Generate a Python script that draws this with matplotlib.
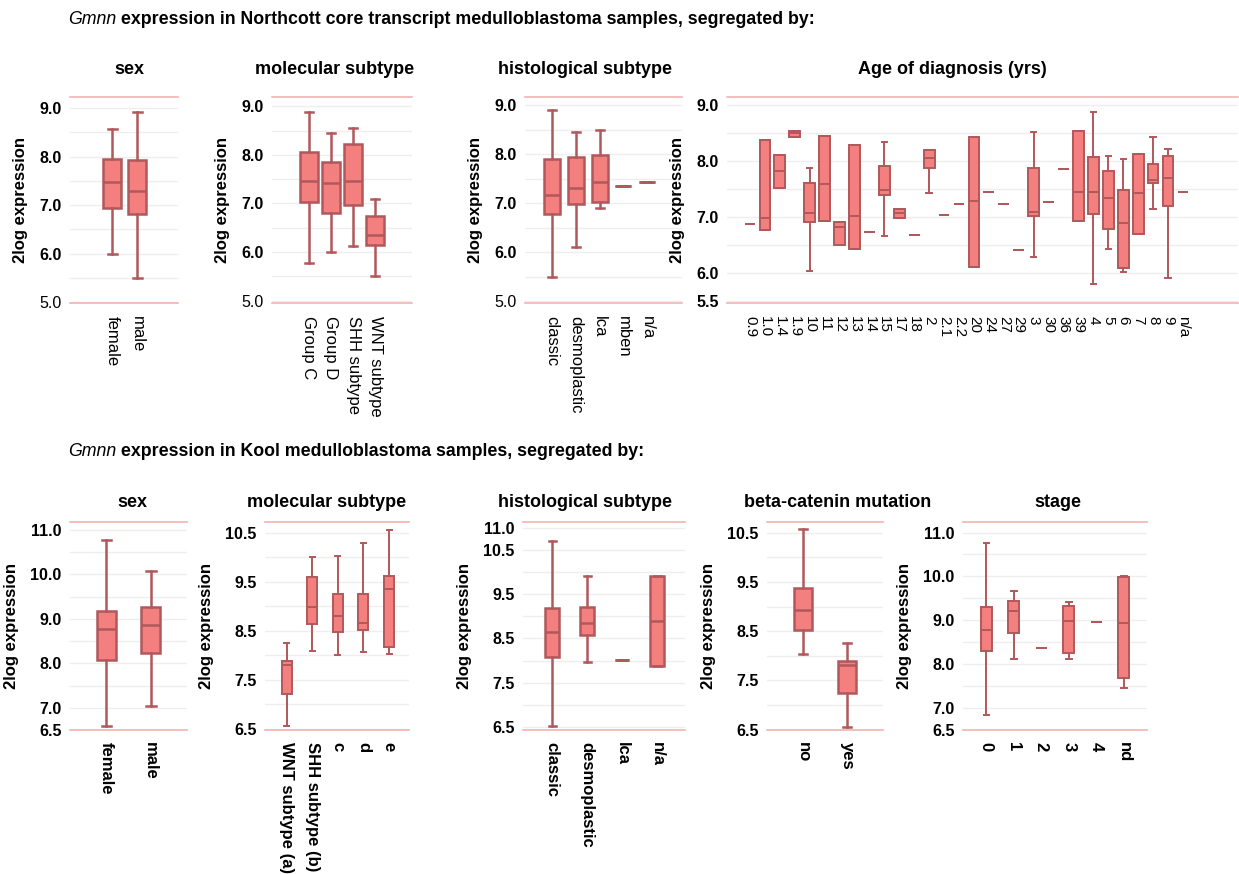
import matplotlib
matplotlib.use('Agg')
import matplotlib.pyplot as plt
import numpy as np

plt.rcParams['font.family'] = ['Liberation Sans', 'DejaVu Sans']

BOX_FACE = '#f37f7f'
BOX_EDGE = '#b0585b'
PINK = '#f4b3b3'
GRID = '#eeeeee'

# each stat tuple: (whisker low, q1, median, q3, whisker high)

# --- Northcott
nc_sex = ['female', 'male']
nc_sex_stats = [(6.00, 6.93, 7.48, 7.96, 8.58),
                (5.49, 6.81, 7.29, 7.94, 8.92)]

nc_mol = ['Group C', 'Group D', 'SHH subtype', 'WNT subtype']
nc_mol_stats = [(5.78, 7.03, 7.46, 8.06, 8.88),
                (6.00, 6.80, 7.41, 7.85, 8.45),
                (6.12, 6.96, 7.46, 8.22, 8.55),
                (5.50, 6.14, 6.35, 6.74, 7.10)]

nc_hist = ['classic', 'desmoplastic', 'lca', 'mben', 'n/a']
nc_hist_stats = [(5.50, 6.78, 7.16, 7.91, 8.90),
                 (6.11, 6.98, 7.31, 7.94, 8.45),
                 (6.90, 7.03, 7.44, 7.99, 8.50),
                 (7.36, 7.36, 7.36, 7.36, 7.36),
                 (7.43, 7.43, 7.43, 7.43, 7.43)]

nc_age = ['0.9', '1.0', '1.4', '1.9', '10', '11', '12', '13', '14', '15',
          '17', '18', '2', '2.1', '2.2', '20', '24', '27', '29', '3',
          '30', '36', '39', '4', '5', '6', '7', '8', '9', 'n/a']
nc_age_stats = [(6.88, 6.88, 6.88, 6.88, 6.88),
                (6.77, 6.77, 6.97, 8.38, 8.38),
                (7.52, 7.52, 7.81, 8.11, 8.11),
                (8.43, 8.43, 8.49, 8.54, 8.54),
                (6.04, 6.90, 7.07, 7.60, 7.87),
                (6.92, 6.92, 7.59, 8.45, 8.45),
                (6.49, 6.49, 6.81, 6.90, 6.90),
                (6.42, 6.42, 7.02, 8.28, 8.28),
                (6.73, 6.73, 6.73, 6.73, 6.73),
                (6.65, 7.39, 7.48, 7.91, 8.33),
                (6.98, 6.98, 7.07, 7.14, 7.14),
                (6.68, 6.68, 6.68, 6.68, 6.68),
                (7.42, 7.88, 8.05, 8.20, 8.20),
                (7.04, 7.04, 7.04, 7.04, 7.04),
                (7.23, 7.23, 7.23, 7.23, 7.23),
                (6.11, 6.11, 7.29, 8.42, 8.42),
                (7.45, 7.45, 7.45, 7.45, 7.45),
                (7.23, 7.23, 7.23, 7.23, 7.23),
                (6.41, 6.41, 6.41, 6.41, 6.41),
                (6.29, 7.02, 7.08, 7.87, 8.52),
                (7.26, 7.26, 7.26, 7.26, 7.26),
                (7.85, 7.85, 7.85, 7.85, 7.85),
                (6.92, 6.92, 7.45, 8.54, 8.54),
                (5.80, 7.05, 7.45, 8.06, 8.88),
                (6.43, 6.79, 7.33, 7.82, 8.08),
                (6.02, 6.08, 6.89, 7.48, 8.04),
                (6.70, 6.70, 7.43, 8.13, 8.13),
                (7.14, 7.61, 7.66, 7.94, 8.42),
                (5.90, 7.20, 7.70, 8.09, 8.21),
                (7.45, 7.45, 7.45, 7.45, 7.45)]

# --- Kool
k_sex = ['female', 'male']
k_sex_stats = [(6.59, 8.07, 8.77, 9.18, 10.78),
               (7.05, 8.24, 8.87, 9.26, 10.08)]

k_mol = ['WNT subtype (a)', 'SHH subtype (b)', 'c', 'd', 'e']
k_mol_stats = [(6.55, 7.21, 7.80, 7.89, 8.25),
               (8.09, 8.64, 8.98, 9.59, 10.01),
               (8.01, 8.47, 8.79, 9.25, 10.03),
               (8.07, 8.51, 8.65, 9.25, 10.29),
               (8.02, 8.16, 9.35, 9.61, 10.55)]

k_hist = ['classic', 'desmoplastic', 'lca', 'n/a']
k_hist_stats = [(6.52, 8.07, 8.65, 9.18, 10.71),
                (7.96, 8.58, 8.84, 9.22, 9.90),
                (8.01, 8.01, 8.01, 8.01, 8.01),
                (7.88, 7.88, 8.89, 9.90, 9.90)]

k_beta = ['no', 'yes']
k_beta_stats = [(8.03, 8.52, 8.94, 9.37, 10.58),
                (6.56, 7.24, 7.81, 7.89, 8.26)]

k_stage = ['0', '1', '2', '3', '4', 'nd']
k_stage_stats = [(6.85, 8.31, 8.78, 9.31, 10.77),
                 (8.12, 8.70, 9.22, 9.45, 9.66),
                 (8.36, 8.36, 8.36, 8.36, 8.36),
                 (8.12, 8.25, 8.98, 9.32, 9.41),
                 (8.95, 8.95, 8.95, 8.95, 8.95),
                 (7.45, 7.69, 8.93, 9.98, 10.01)]

W, H = 1239, 874
fig = plt.figure(figsize=(W / 100, H / 100), dpi=100)


def panel(px, cats, stats, ylim, yticks, xlim, width, title, title_x, title_y,
          bold_x, lw=1.8, xfs=12, light_ticks=()):
    L, T, R, B = px
    ax = fig.add_axes([L / W, 1 - B / H, (R - L) / W, (B - T) / H])
    bxs = [dict(whislo=s[0], q1=s[1], med=s[2], q3=s[3], whishi=s[4], fliers=[])
           for s in stats]
    ax.bxp(bxs, positions=range(len(cats)), widths=width, patch_artist=True,
           showfliers=False, manage_ticks=False,
           boxprops=dict(facecolor=BOX_FACE, edgecolor=BOX_EDGE, linewidth=lw),
           medianprops=dict(color=BOX_EDGE, linewidth=lw),
           whiskerprops=dict(color=BOX_EDGE, linewidth=lw),
           capprops=dict(color=BOX_EDGE, linewidth=lw))
    for g in np.arange(np.ceil(ylim[0] * 2) / 2, ylim[1], 0.5):
        ax.axhline(g, color=GRID, lw=1, zorder=0)
    ax.set_xlim(xlim)
    ax.set_ylim(ylim)
    ax.set_xticks(range(len(cats)))
    ax.set_xticklabels(cats, rotation=-90, fontsize=xfs,
                       fontweight='bold' if bold_x else 'normal')
    ax.set_yticks(yticks)
    ax.set_yticklabels(['%.1f' % t for t in yticks], fontsize=11.5, fontweight='bold')
    for t, lab in zip(yticks, ax.get_yticklabels()):
        if t in light_ticks:
            lab.set_fontweight('normal')
    ax.tick_params(length=0)
    ax.tick_params(axis='x', pad=9)
    ax.tick_params(axis='y', pad=6)
    for s in ['left', 'right']:
        ax.spines[s].set_visible(False)
    for s in ['top', 'bottom']:
        ax.spines[s].set_color(PINK)
        ax.spines[s].set_linewidth(1.2)
    ax.set_ylabel('2log expression', fontsize=12, fontweight='bold', labelpad=8)
    fig.text(title_x / W, 1 - title_y / H, title, fontsize=13, fontweight='bold',
             ha='center', va='center')
    return ax


# top row
panel((70, 97, 178, 303), nc_sex, nc_sex_stats, (4.98, 9.23), [5, 6, 7, 8, 9],
      (-1.68, 2.64), 0.72, 'sex', 129, 70, False, light_ticks=(5,))
panel((272, 97, 412, 303), nc_mol, nc_mol_stats, (4.95, 9.19), [5, 6, 7, 8, 9],
      (-1.68, 4.68), 0.8, 'molecular subtype', 335, 70, False, light_ticks=(5,))
panel((525, 97, 682, 303), nc_hist, nc_hist_stats, (4.96, 9.17), [5, 6, 7, 8, 9],
      (-1.14, 5.47), 0.67, 'histological subtype', 585, 70, False, light_ticks=(5,))
panel((727, 97, 1238, 303), nc_age, nc_age_stats, (5.46, 9.14), [5.5, 6, 7, 8, 9],
      (-1.54, 32.69), 0.72, 'Age of diagnosis (yrs)', 952, 70, False, lw=1.4, xfs=11)

# bottom row
panel((70, 522, 187, 730), k_sex, k_sex_stats, (6.52, 11.18), [6.5, 7, 8, 9, 10, 11],
      (-0.816, 1.813), 0.43, 'sex', 132, 502, True)
panel((265, 522, 409, 730), k_mol, k_mol_stats, (6.47, 10.72), [6.5, 7.5, 8.5, 9.5, 10.5],
      (-0.848, 4.78), 0.39, 'molecular subtype', 327, 502, True, lw=1.4)
panel((523, 522, 685, 730), k_hist, k_hist_stats, (6.43, 11.13), [6.5, 7.5, 8.5, 9.5, 10.5, 11],
      (-0.829, 3.80), 0.4, 'histological subtype', 585, 502, True)
panel((767, 522, 883, 730), k_beta, k_beta_stats, (6.49, 10.72), [6.5, 7.5, 8.5, 9.5, 10.5],
      (-0.818, 1.818), 0.39, 'beta-catenin mutation', 838, 502, True)
panel((963, 522, 1147, 730), k_stage, k_stage_stats, (6.57, 11.24), [6.5, 7, 8, 9, 10, 11],
      (-0.847, 5.84), 0.4, 'stage', 1058, 502, True, lw=1.4)

# section headers: italic gene name followed by bold text
renderer = fig.canvas.get_renderer()
for y, rest in [(20, ' expression in Northcott core transcript medulloblastoma samples, segregated by:'),
                (452, ' expression in Kool medulloblastoma samples, segregated by:')]:
    t1 = fig.text(68 / W, 1 - y / H, 'Gmnn', fontsize=12.8, style='italic',
                  ha='left', va='center')
    bb = t1.get_window_extent(renderer)
    fig.text(bb.x1 / W, 1 - y / H, rest, fontsize=12.8, fontweight='bold',
             ha='left', va='center')

fig.savefig('out.png', dpi=100)
